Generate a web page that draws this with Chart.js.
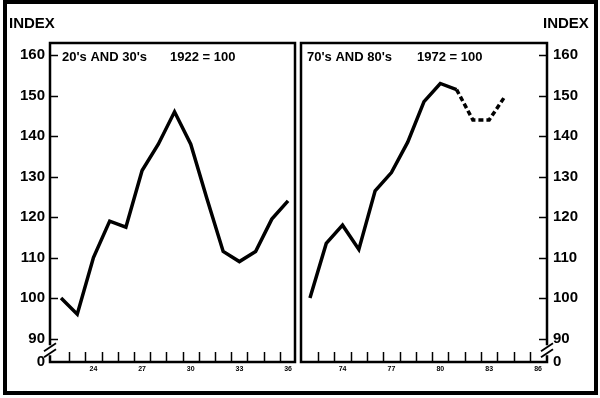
<!DOCTYPE html>
<html>
<head>
<meta charset="utf-8">
<script src="https://cdn.jsdelivr.net/npm/chart.js@4.4.0/dist/chart.umd.min.js"></script>
<style>
    html, body { margin: 0; padding: 0; background: #fff; }
    #wrap { position: relative; width: 600px; height: 398px; overflow: hidden; background: #fff; }
    #frame { position: absolute; left: 3px; top: 0; width: 595px; height: 395px; box-sizing: border-box; border: 4px solid #000; pointer-events: none; }
    #leftBox { position: absolute; left: 0; top: 0; width: 298px; height: 398px; }
    #rightBox { position: absolute; left: 298px; top: 0; width: 302px; height: 398px; }
</style>
</head>
<body>
<div id="wrap">
    <div id="leftBox"><canvas id="earlyChart" width="298" height="398"></canvas></div>
    <div id="rightBox"><canvas id="lateChart" width="302" height="398"></canvas></div>
    <div id="frame"></div>
</div>
<script>
// 1920s-30s, 1922 = 100
const yearsEarly = [22, 23, 24, 25, 26, 27, 28, 29, 30, 31, 32, 33, 34, 35, 36];
const indexEarly = [100, 96, 110, 119, 117.5, 131.5, 138, 146, 138, 124.5, 111.5, 109, 111.5, 119.5, 124];

// 1970s-80s, 1972 = 100 (dashed from 81 on)
const yearsLate = [72, 73, 74, 75, 76, 77, 78, 79, 80, 81, 82, 83, 84];
const indexLate = [100, 113.5, 118, 112, 126.5, 131, 138.5, 148.5, 153, 151.5, 144, 144, 150];
const dashedFrom = 81;

const yTicks = [90, 100, 110, 120, 130, 140, 150, 160];
const xLabelsEarly = [24, 27, 30, 33, 36];
const xLabelsLate = [74, 77, 80, 83, 86];

const yMin = 84.2;
const yMax = 163;
const FONT = '"Liberation Sans", Arial, sans-serif';

function strokeLine(ctx, x1, y1, x2, y2) {
    ctx.beginPath();
    ctx.moveTo(x1, y1);
    ctx.lineTo(x2, y2);
    ctx.stroke();
}

const panelDecor = {
    id: 'panelDecor',
    afterDraw(chart, args, o) {
        const { ctx, chartArea: a } = chart;
        const x = chart.scales.x;
        const y = chart.scales.y;
        ctx.save();
        ctx.strokeStyle = '#000';
        ctx.fillStyle = '#000';

        // panel box
        ctx.lineWidth = 2.5;
        ctx.strokeRect(a.left, a.top, a.right - a.left, a.bottom - a.top);

        // y ticks pointing into the panel
        const ax = o.side === 'left' ? a.left : a.right;
        const dir = o.side === 'left' ? 1 : -1;
        ctx.lineWidth = 1.5;
        yTicks.forEach(v => {
            const py = Math.round(y.getPixelForValue(v)) + 0.5;
            strokeLine(ctx, ax, py, ax + dir * 8, py);
        });

        // x ticks between years
        for (let v = Math.ceil(x.min) + 0.5; v < o.lastLabel; v++) {
            const px = Math.round(x.getPixelForValue(v)) + 0.5;
            strokeLine(ctx, px, a.bottom, px, a.bottom - 10);
        }

        // axis break between 90 and 0
        const by = y.getPixelForValue((yTicks[0] + yMin) / 2);
        ctx.fillStyle = '#fff';
        ctx.fillRect(ax - 3, by - 5, 6, 10);
        ctx.lineWidth = 1.8;
        [-3, 3].forEach(off => {
            strokeLine(ctx, ax - 6, by + off + 4, ax + 6, by + off - 4);
        });

        // panel title
        ctx.fillStyle = '#000';
        ctx.font = 'bold 13px ' + FONT;
        ctx.textBaseline = 'top';
        ctx.textAlign = 'left';
        ctx.fillText(o.title1, a.left + o.t1x, a.top + 8);
        ctx.fillText(o.title2, a.left + o.t2x, a.top + 8);

        // axis name
        ctx.font = 'bold 15px ' + FONT;
        ctx.textBaseline = 'middle';
        ctx.fillText('INDEX', o.indexX, 24);
        ctx.restore();
    }
};

function makePanel(id, years, values, cfg) {
    const ctx = document.getElementById(id).getContext('2d');
    return new Chart(ctx, {
        type: 'line',
        data: {
            datasets: [{
                data: years.map((yr, i) => ({ x: yr, y: values[i] })),
                borderColor: '#000',
                borderWidth: 3.5,
                borderJoinStyle: 'miter',
                pointRadius: 0,
                tension: 0,
                fill: false,
                segment: {
                    borderDash: c => c.p0.parsed.x >= cfg.dashedFrom ? [5, 3] : undefined
                }
            }]
        },
        options: {
            responsive: false,
            animation: false,
            layout: { padding: cfg.padding },
            plugins: {
                legend: { display: false },
                tooltip: { enabled: false },
                panelDecor: cfg.decor
            },
            scales: {
                x: {
                    type: 'linear',
                    min: cfg.xMin,
                    max: cfg.xMax,
                    afterBuildTicks: s => { s.ticks = cfg.xLabels.map(v => ({ value: v })); },
                    afterFit: s => { s.height = 36; },
                    ticks: {
                        autoSkip: false,
                        maxRotation: 0,
                        padding: 3,
                        color: '#000',
                        font: { family: FONT, size: 7, weight: 'bold' },
                        callback: v => String(v)
                    },
                    grid: { display: false, drawTicks: false },
                    border: { display: false }
                },
                y: {
                    type: 'linear',
                    position: cfg.decor.side,
                    min: yMin,
                    max: yMax,
                    afterBuildTicks: s => { s.ticks = [yMin].concat(yTicks).map(v => ({ value: v })); },
                    afterFit: s => { s.width = cfg.yWidth; },
                    ticks: {
                        autoSkip: false,
                        padding: cfg.yPad,
                        color: '#000',
                        font: { family: FONT, size: 15, weight: 'bold' },
                        callback: v => v === yMin ? '0' : String(v)
                    },
                    grid: { display: false, drawTicks: false },
                    border: { display: false }
                }
            }
        },
        plugins: [panelDecor]
    });
}

makePanel('earlyChart', yearsEarly, indexEarly, {
    dashedFrom: Infinity,
    xMin: 21.32, xMax: 36.43,
    xLabels: xLabelsEarly,
    padding: { top: 43, right: 3, left: 0, bottom: 0 },
    yWidth: 50, yPad: 5,
    decor: { side: 'left', lastLabel: 36, title1: "20's AND 30's", title2: '1922 = 100', t1x: 12, t2x: 120, indexX: 9 }
});

makePanel('lateChart', yearsLate, indexLate, {
    dashedFrom: dashedFrom,
    xMin: 71.45, xMax: 86.55,
    xLabels: xLabelsLate,
    padding: { top: 43, right: 0, left: 3, bottom: 0 },
    yWidth: 53, yPad: 6,
    decor: { side: 'right', lastLabel: 86, title1: "70's AND 80's", title2: '1972 = 100', t1x: 6, t2x: 116, indexX: 245 }
});
</script>
</body>
</html>
